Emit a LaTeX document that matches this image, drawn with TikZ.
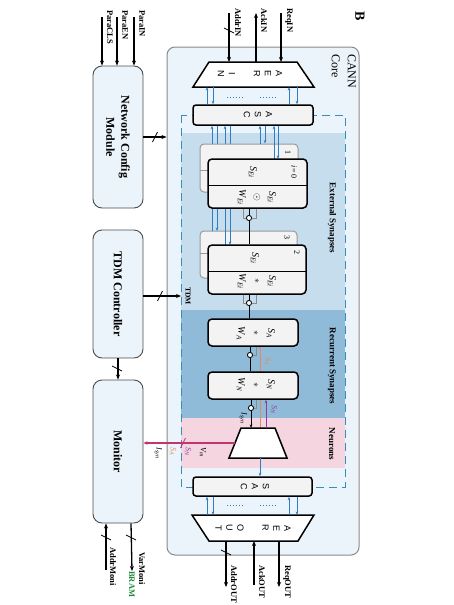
\documentclass[tikz,border=0pt]{standalone}
\usepackage{fontspec}
\setmainfont{Liberation Serif}
\newfontfamily\lsans{Liberation Sans}
\usetikzlibrary{arrows.meta}

\definecolor{corefill}{HTML}{EBF4FA}
\definecolor{coreline}{HTML}{8A8A8A}
\definecolor{extband}{HTML}{C6DDEE}
\definecolor{recband}{HTML}{8FBBD9}
\definecolor{neuband}{HTML}{F5D5E0}
\definecolor{dashcol}{HTML}{3A8DB8}
\definecolor{blockfill}{HTML}{F3F3F3}
\definecolor{bluearr}{HTML}{2C7DC3}
\definecolor{crimsonc}{HTML}{C23670}
\definecolor{sacol}{HTML}{E08A64}
\definecolor{sncol}{HTML}{8E3C9A}
\definecolor{bramcol}{HTML}{1E8A3C}

\newcommand{\Sv}[2]{\textit{#1}\textsubscript{\textit{#2}}}

\begin{document}
\begin{tikzpicture}[x=1pt,y=-1pt,
  R/.style={rotate=-90, inner sep=0pt},
  sidebox/.style={draw=black!70, fill=corefill, rounded corners=9pt, line width=0.9pt},
  blk/.style={draw=black, fill=blockfill, rounded corners=4pt, line width=1.5pt},
  backblk/.style={draw=black!40, fill=blockfill, rounded corners=4pt, line width=1pt},
  barr/.style={draw=bluearr, line width=0.9pt, -{Stealth[length=3.5pt,width=2.6pt]}},
  karr/.style={draw=black, line width=1.3pt, -{Stealth[length=5pt,width=4pt]}},
  lbl/.style={R, font=\bfseries\fontsize{8.5}{10}\selectfont, anchor=west},
  sidetxt/.style={R, font=\bfseries\fontsize{12}{15}\selectfont, align=center},
  bandtxt/.style={R, font=\bfseries\fontsize{9}{11}\selectfont},
  lett/.style={R, font=\lsans\fontsize{9}{11}\selectfont, align=center},
  sym/.style={R, font=\fontsize{10}{15}\selectfont, align=center},
  idx/.style={R, font=\fontsize{8}{9}\selectfont},
  slash/.style={line width=0.8pt},
  gbr/.style={draw=black!45, line width=0.8pt},
  junc/.style={circle, draw=black, fill=white, line width=0.7pt, inner sep=0pt, minimum size=5pt},
]
\useasboundingbox (0,0) rectangle (454,605);

% title
\node[R, font=\bfseries\fontsize{14}{16}\selectfont] (ttl) at (360,16) {B};

% side modules
\node[sidebox, minimum width=50, minimum height=142] (ncm) at (118,137) {};
\node[sidetxt] at (ncm) {Network Config\\Module};
\node[sidebox, minimum width=50, minimum height=128] (tdmc) at (118,294) {};
\node[sidetxt] at (tdmc) {TDM Controller};
\node[sidebox, minimum width=50, minimum height=143] (mon) at (118,451.5) {};
\node[sidetxt] at (mon) {Monitor};

% core
\node[draw=coreline, fill=corefill, rounded corners=8pt, line width=1pt,
      minimum width=192, minimum height=508] (core) at (263,301) {};
\node[R, anchor=north west, font=\fontsize{12}{16}\selectfont, align=left] (corelbl) at (356,54) {CANN\\Core};

% bands
\fill[extband] (181,133) rectangle (345,310);
\fill[recband] (181,310) rectangle (345,418);
\fill[neuband] (181,418) rectangle (345,468);
\draw[dashcol, line width=1pt, dash pattern=on 8pt off 5pt] (181,115) rectangle (345,487);
\node[bandtxt] (extl) at (332,218) {External Synapses};
\node[bandtxt] (recl) at (332,366) {Recurrent Synapses};
\node[bandtxt] (neul) at (332,444) {Neurons};

% AER IN
\draw[fill=white, line width=1.5pt] (209,62) -- (297,62) -- (314,87) -- (193,87) -- cycle;
\coordinate (aerinT) at (253,62);
\coordinate (aerinB) at (253,87);
\node[lett] (aerintxt) at (250,74) {A\\E\\R\\[14pt]I\\N};

% AER OUT
\draw[fill=white, line width=1.5pt] (192,515) -- (314,515) -- (298,541) -- (209,541) -- cycle;
\coordinate (aeroutT) at (253,515);
\coordinate (aeroutB) at (253,541);
\node[lett] (aerouttxt) at (253,528) {A\\E\\R\\[14pt]O\\U\\T};

% ASC boxes
\node[blk, rounded corners=3pt, minimum width=120, minimum height=20] (asc1) at (253,115) {};
\node[lett] at (258,115) {A\\S\\C};
\node[blk, rounded corners=3pt, minimum width=119, minimum height=19] (asc2) at (252.5,486.5) {};
\node[lett] at (255,486.5) {S\\A\\C};

% AER IN <-> ASC
\foreach \xu/\xd in {207/213, 289/297}{
  \draw[barr] (\xu,0 |- asc1.north) -- (\xu,87);
  \draw[barr] (\xd,87) -- (\xd,0 |- asc1.north);
}
\draw[bluearr, line width=1pt, dotted] (227,97) -- (243,97);
\draw[bluearr, line width=1pt, dotted] (260,97) -- (276,97);
% ASC <-> AER OUT
\foreach \xu/\xd in {207/213, 289/297}{
  \draw[barr] (\xu,515) -- (\xu,0 |- asc2.south);
  \draw[barr] (\xd,0 |- asc2.south) -- (\xd,515);
}
\draw[bluearr, line width=1pt, dotted] (227,505) -- (243,505);
\draw[bluearr, line width=1pt, dotted] (260,505) -- (276,505);

% junctions
\node[junc] (c1) at (249,218) {};
\node[junc] (c2) at (249,303) {};
\node[junc] (c3) at (250,355) {};
\node[junc] (c4) at (251,408) {};

% gray merge brackets (drawn behind blocks)
\draw[gbr] (243,190) -- (243,218) -- (256,218) -- (256,190);
\draw[gbr] (243,276) -- (243,303) -- (256,303) -- (256,276);

% external synapse blocks (second group, back)
\node[backblk, minimum width=97, minimum height=47] (b3) at (248.5,254.5) {};
\draw[black!40, line width=0.8pt] (200,253) -- (297,253);
\node[idx] at (287,237) {3};
% ASC -> boxes 3,2
\draw[barr] (212,231) -- (212,0 |- asc1.south);
\draw[barr] (217,0 |- asc1.south) -- (217,231);
\draw[barr] (225,245) -- (225,0 |- asc1.south);
\draw[barr] (230,0 |- asc1.south) -- (230,245);

% first group
\node[backblk, minimum width=98, minimum height=48] (b1) at (249,168) {};
\draw[black!40, line width=0.8pt] (200,170) -- (298,170);
\node[idx] at (288,152) {1};
\draw[barr] (260,0 |- b1.north) -- (260,0 |- asc1.south);
\draw[barr] (265,0 |- asc1.south) -- (265,0 |- b1.north);
\draw[barr] (274,159) -- (274,0 |- asc1.south);
\draw[barr] (278,0 |- asc1.south) -- (278,159);

\node[blk, minimum width=99, minimum height=49] (b0) at (257.5,183.5) {};
\draw[black, line width=0.9pt] (208,185) -- (307,185);
\node[sym] at (253,172) {\Sv{S}{Ei}};
\node[idx] at (294,172) {\textit{i}\,=\,0};
\node[sym] at (257,197) {\Sv{S}{Ei}\\$\odot$\\\Sv{W}{Ei}};

\node[blk, minimum width=98, minimum height=49] (b2) at (257,269.5) {};
\draw[black, line width=0.9pt] (208,271) -- (306,271);
\node[sym] at (255,258) {\Sv{S}{Ei}};
\node[idx] at (297,252) {2};
\node[sym] at (257,281) {\Sv{S}{Ei}\\$\ast$\\\Sv{W}{Ei}};

% recurrent
\draw[sacol, line width=1pt, -{Stealth[length=3.5pt,width=2.6pt]}] (260,428) -- (260,346);
\draw[gbr] (c3) -- (256,355) -- (256,346);
\draw[gbr] (c4) -- (256,408) -- (256,399);
\node[blk, minimum width=90, minimum height=27] (ra) at (253,332.5) {};
\node[sym] at (256,333) {\Sv{S}{A}\\$\ast$\\\Sv{W}{A}};
\node[blk, minimum width=90, minimum height=27] (rn) at (253,385.5) {};
\node[sym] at (256,385) {\Sv{S}{N}\\$\ast$\\\Sv{W}{N}};
\node[R, font=\fontsize{8}{9}\selectfont, text=sacol] (sal) at (268,362) {\Sv{S}{A}};

% main signal chain
\draw[line width=0.9pt] (c1 |- b0.south) -- (c1) -- (c1 |- b2.north);
\draw[line width=0.9pt] (c2 |- b2.south) -- (c2) -- (c2 |- ra.north);
\draw[line width=0.9pt] (c3 |- ra.south) -- (c3) -- (c3 |- rn.north);
\draw[line width=0.9pt] (c4 |- rn.south) -- (c4);
\node[junc] at (c1) {};
\node[junc] at (c2) {};
\node[junc] at (c3) {};
\node[junc] at (c4) {};

% neuron
\draw[fill=white, line width=1.5pt] (241,428) -- (275,428) -- (287,458) -- (229,458) -- cycle;
\coordinate (neuT) at (251,428);
\coordinate (neuL) at (235,443);
\coordinate (neuB) at (260,458);
\draw[line width=0.9pt, -{Stealth[length=3.5pt,width=2.6pt]}] (c4) -- (neuT);
\draw[sncol, line width=1pt, -{Stealth[length=3.5pt,width=2.6pt]}] (266,428) -- (266,0 |- rn.south);
\node[R, font=\fontsize{8}{9}\selectfont, text=sncol] at (274,410) {\Sv{S}{N}};
\node[R, font=\fontsize{8}{9}\selectfont] at (243,418) {\Sv{I}{syn}};
\draw[barr] (neuB) -- (neuB |- asc2.north);

% crimson to monitor
\draw[crimsonc, line width=1.2pt, -{Stealth[length=4pt,width=3.5pt]}] (neuL) -- (neuL -| mon.east);
\draw[crimsonc, slash] (180.5,448) -- (185.5,438);
\node[R, font=\fontsize{8}{9}\selectfont, anchor=west] at (203,447) {\Sv{V}{m}};
\node[R, font=\fontsize{8}{9}\selectfont, anchor=west, text=sncol] at (188,447) {\Sv{S}{N}};
\node[R, font=\fontsize{8}{9}\selectfont, anchor=west, text=sacol] at (173,447) {\Sv{S}{A}};
\node[R, font=\fontsize{8}{9}\selectfont, anchor=west] at (158,447) {\Sv{I}{syn}};

% config -> core
\draw[karr] (ncm.east |- 0,137) -- (core.west |- 0,137);
\draw[slash] (152.5,142) -- (157.5,132);
% TDM
\coordinate (tdmin) at (181,296);
\draw[karr] (tdmc.east |- tdmin) -- (tdmin);
\draw[slash] (157.5,301) -- (162.5,291);
\node[R, font=\bfseries\fontsize{7.5}{9}\selectfont] (tdml) at (188,296) {TDM};
\draw[karr] (tdmc.south) -- (mon.north);
\draw[slash] (112,366) -- (122,371);

% para inputs
\foreach \xx/\nm in {134/ParaIN, 117/ParaEN, 102/ParaCLS}{
  \draw[karr] (\xx,17) -- (\xx,0 |- ncm.north);
  \node[lbl] at (\xx+8,10) {\nm};
}

% AER IN signals
\draw[karr] (281,13) -- (281,0 |- aerinT);
\node[lbl] at (289,8) {ReqIN};
\draw[karr] (256,0 |- aerinT) -- (256,13);
\node[lbl] at (264,8) {AckIN};
\draw[karr] (229,13) -- (229,0 |- aerinT);
\draw[slash] (224,28) -- (234,33);
\node[lbl] at (238,8) {AddrIN};

% AER OUT signals
\draw[karr] (226,0 |- aeroutB) -- (226,587);
\draw[slash] (221,550) -- (231,555);
\node[lbl] at (234,565) {AddrOUT};
\draw[karr] (254,585) -- (254,0 |- aeroutB);
\node[lbl] at (262,565) {AckOUT};
\draw[karr] (279,0 |- aeroutB) -- (279,587);
\node[lbl] at (287,565) {ReqOUT};

% monitor outputs
\node[R, font=\bfseries\fontsize{8.5}{10}\selectfont, text=bramcol, anchor=west] (bram) at (132,571) {BRAM};
\draw[karr] (131,0 |- mon.south) -- (bram.west);
\draw[slash] (126,535) -- (136,540);
\node[lbl] at (142,552) {VarMoni};
\draw[karr] (106,570) -- (106,0 |- mon.south);
\draw[slash] (101,535) -- (111,540);
\node[lbl] at (113,547) {AddrMoni};
\end{tikzpicture}
\end{document}
